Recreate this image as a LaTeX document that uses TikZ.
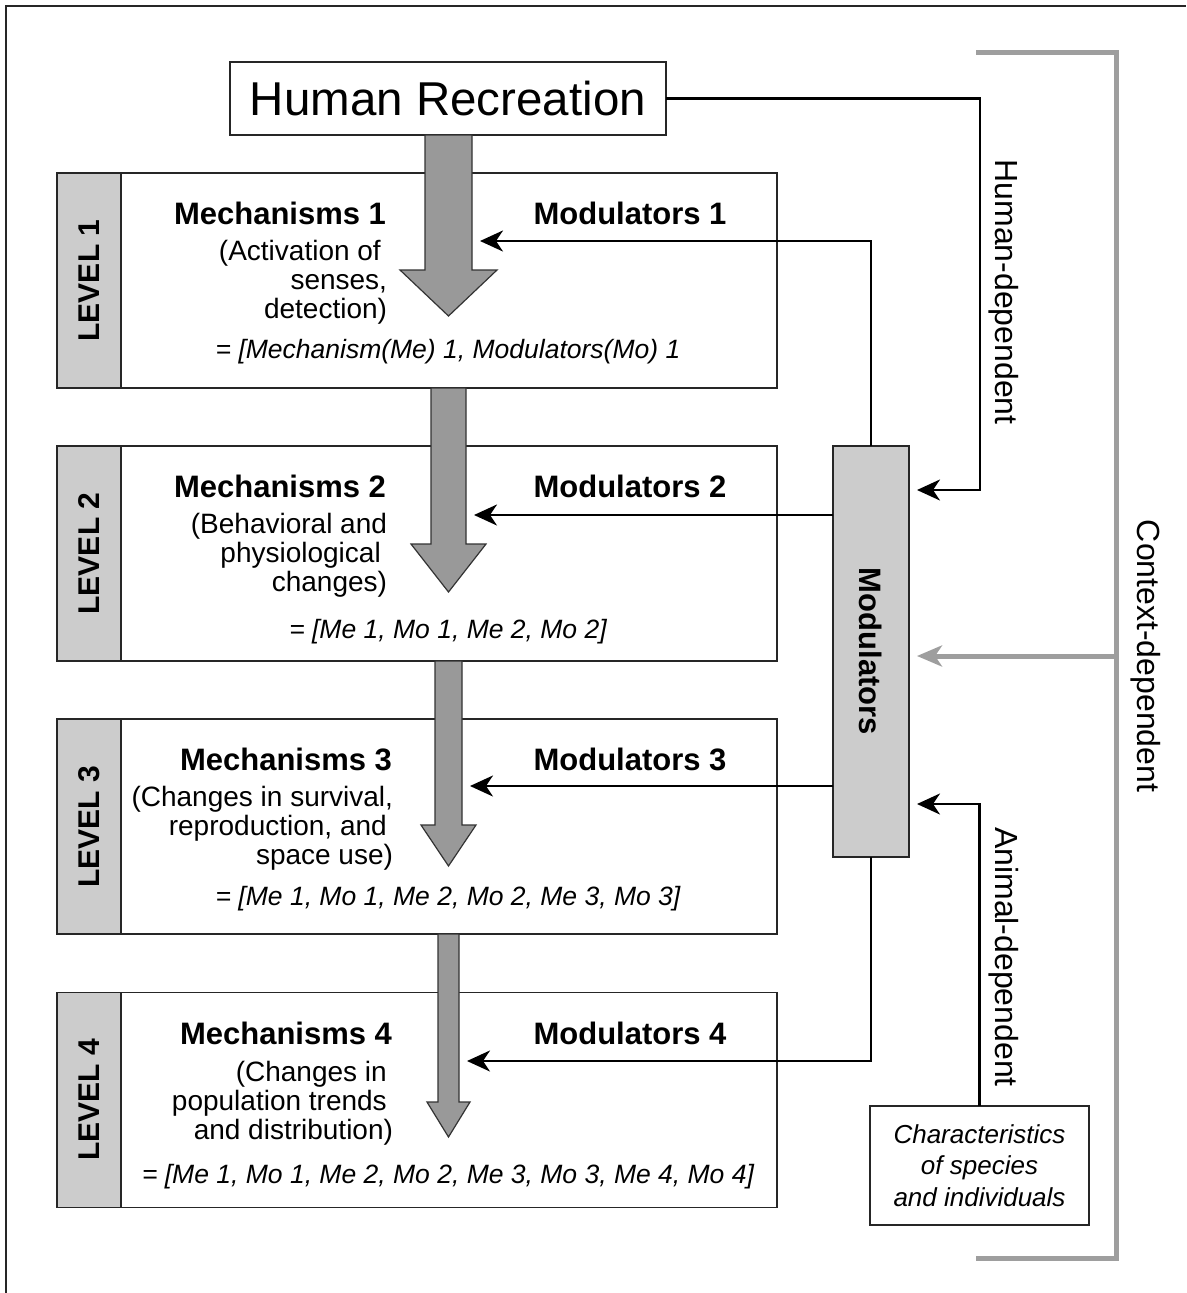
\documentclass[tikz,border=0pt]{standalone}
\usepackage{fontspec}
\setmainfont{Liberation Sans}
\usetikzlibrary{arrows.meta,calc}
\begin{document}
\begin{tikzpicture}[x=1pt,y=-1pt,
 every node/.style={inner sep=0pt,outer sep=0pt},
 boxline/.style={draw=black!85,line width=1.4pt},
 lbox/.style={boxline,fill=white,minimum width=656pt,minimum height=215pt},
 ltab/.style={boxline,fill=black!20,minimum width=64pt,minimum height=215pt},
 tabtxt/.style={font=\fontsize{30}{34}\selectfont\bfseries,rotate=90},
 mechtxt/.style={font=\fontsize{31}{36}\selectfont\bfseries},
 desctxt/.style={font=\fontsize{28}{29}\selectfont,align=right},
 formtxt/.style={font=\fontsize{26.5}{30}\selectfont\itshape},
 bigarrow/.style={draw=black!80,line width=1.2pt,fill=black!40},
 conn/.style={draw=black,line width=2.5pt,-{Stealth[length=23pt,width=21pt,inset=7pt]}},
 gconn/.style={draw=black!38,line width=5pt,-{Stealth[length=25pt,width=21pt,inset=7pt]}},
 sidetxt/.style={font=\fontsize{32}{36}\selectfont,rotate=-90},
]
\useasboundingbox (0,0) rectangle (1186,1293);
\fill[white] (0,0) rectangle (1186,1293);
% outer frame
\draw[boxline] (6,1293) -- (6,6) -- (1186,6);

% Human recreation
\node[boxline,fill=white,minimum width=436pt,minimum height=73pt,font=\fontsize{47.5}{52}\selectfont] (hr) at (448,98.5) {Human Recreation};

% levels
\foreach \i/\cy in {1/280.5,2/553.5,3/826.5,4/1100}{
  \node[ltab] (tab\i) at (89,\cy) {};
  \node[tabtxt] at (tab\i) {LEVEL \i};
  \node[lbox] (lev\i) at (449,\cy) {};
}

% big arrows
\path[bigarrow] (425,135) -- (425,270) -- (400,270) -- (448.5,316) -- (497,270) -- (472,270) -- (472,135) -- cycle;
\path[bigarrow] (431,388) -- (431,544) -- (411,544) -- (448.5,592) -- (486,544) -- (466,544) -- (466,388) -- cycle;
\path[bigarrow] (435,661) -- (435,825) -- (421,825) -- (448.5,866) -- (476,825) -- (462,825) -- (462,661) -- cycle;
\path[bigarrow] (438,934) -- (438,1102) -- (427,1102) -- (448.5,1137) -- (470,1102) -- (459,1102) -- (459,934) -- cycle;

% level texts
\node[mechtxt,anchor=base east] (me1) at (386,224) {Mechanisms 1};
\node[mechtxt,anchor=base east] (me2) at (386,497) {Mechanisms 2};
\node[mechtxt,anchor=base east] (me3) at (392,770) {Mechanisms 3};
\node[mechtxt,anchor=base east] (me4) at (392,1044) {Mechanisms 4};
\node[mechtxt,anchor=base] (mo1) at (630,224) {Modulators 1};
\node[mechtxt,anchor=base] (mo2) at (630,497) {Modulators 2};
\node[mechtxt,anchor=base] (mo3) at (630,770) {Modulators 3};
\node[mechtxt,anchor=base] (mo4) at (630,1044) {Modulators 4};

\node[desctxt,anchor=north east] (d1) at (387,240) {(Activation of\phantom{i}\\ senses,\\ detection)};
\node[desctxt,anchor=north east] (d2) at (387,513) {(Behavioral and\\ physiological\phantom{i}\\ changes)};
\node[desctxt,anchor=north east] (d3) at (393,786) {(Changes in survival,\\ reproduction, and\phantom{i}\\ space use)};
\node[desctxt,anchor=north east] (d4) at (393,1061) {(Changes in\phantom{i}\\ population trends\phantom{i}\\ and distribution)};

\node[formtxt,anchor=base] (f1) at (448,358) {= [Mechanism(Me) 1, Modulators(Mo) 1};
\node[formtxt,anchor=base] (f2) at (448,638) {= [Me 1, Mo 1, Me 2, Mo 2]};
\node[formtxt,anchor=base] (f3) at (448,905) {= [Me 1, Mo 1, Me 2, Mo 2, Me 3, Mo 3]};
\node[formtxt,anchor=base] (f4) at (448,1183) {= [Me 1, Mo 1, Me 2, Mo 2, Me 3, Mo 3, Me 4, Mo 4]};

% modulators box
\node[boxline,fill=black!20,minimum width=76pt,minimum height=411pt] (mods) at (871,651.5) {};
\node[mechtxt,rotate=-90] at (mods) {Modulators};

% characteristics box
\node[boxline,fill=white,minimum width=219pt,minimum height=119pt,align=center,
  font=\fontsize{26}{31.5}\selectfont\itshape] (chars) at (979.5,1165.5) {Characteristics\\ of species\\ and individuals};

% side labels
\node[sidetxt] (hdep) at (1004,292) {Human-dependent};
\node[sidetxt] (adep) at (1004,957) {Animal-dependent};
\node[sidetxt] (cdep) at (1146,656) {Context-dependent};

% coordinates
\coordinate (m1tip) at (480,241);
\coordinate (m2tip) at (474,515);
\coordinate (m3tip) at (470,786);
\coordinate (m4tip) at (467,1061);
\coordinate (htip) at (917,490);
\coordinate (hbend) at (980,490);
\coordinate (ctip) at (917,656);
\coordinate (cbr) at (1116,656);
\coordinate (atip) at (917,804);
\coordinate (btop) at (976,52);
\coordinate (bbot) at (976,1258);

% connectors
\draw[conn] (mods.north) |- (m1tip);
\draw[conn] (mods.west |- m2tip) -- (m2tip);
\draw[conn] (mods.west |- m3tip) -- (m3tip);
\draw[conn] (mods.south) |- (m4tip);
\draw[conn] (hr.east) -| (hbend) -- (htip);
\draw[conn] (chars.north) |- (atip);
\draw[draw=black!38,line width=5pt] (btop) -| (bbot -| cbr) -- (bbot);
\draw[gconn] (cbr) -- (ctip);
\end{tikzpicture}
\end{document}
